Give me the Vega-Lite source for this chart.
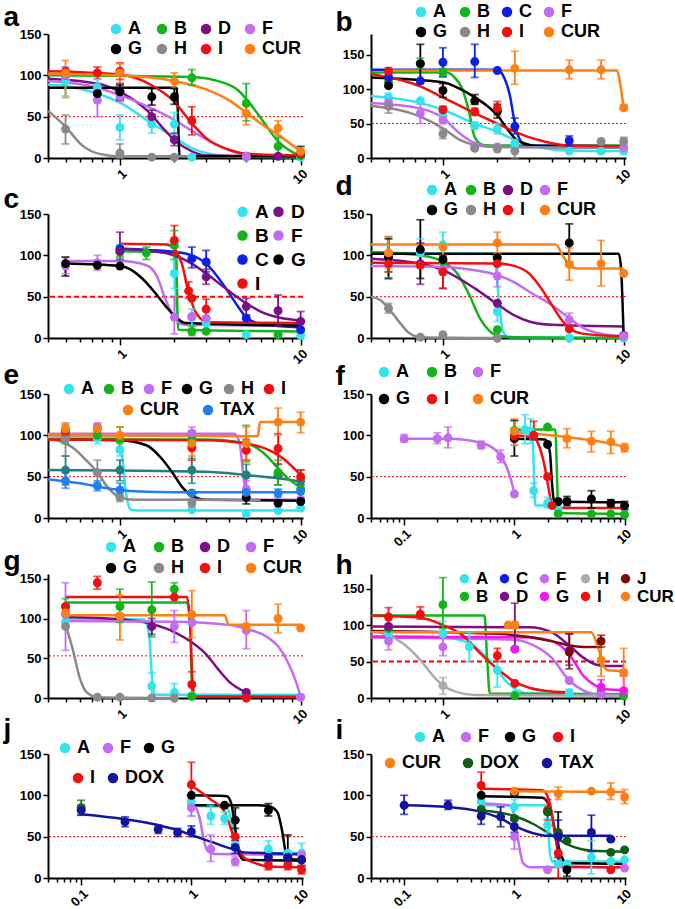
{
"$schema":"https://vega.github.io/schema/vega-lite/v6.json",
"background":"white",
"padding":{"left":3,"top":3,"right":0,"bottom":0},
"columns":2,
"bounds":"flush",
"spacing":{"row":56,"column":68},
"resolve":{"scale":{"x":"independent","y":"independent","color":"independent","fill":"independent"},"legend":{"color":"independent","fill":"independent"},"axis":{"x":"independent","y":"independent"}},
"config":{
 "view":{"stroke":null},
 "axis":{"domainColor":"black","domainWidth":2,"tickColor":"black","tickWidth":1.5,"labelColor":"black","labelFont":"Liberation Sans","labelFontWeight":"bold","labelFontSize":13,"grid":false},
 "axisY":{"titleAngle":0,"titleAlign":"left","titleBaseline":"alphabetic","titleFontSize":28,"titleFont":"Liberation Sans","titleFontWeight":"bold","titleColor":"black"},
 "legend":{"labelFont":"Liberation Sans","labelFontWeight":"bold","labelFontSize":18,"labelColor":"black","symbolType":"circle","symbolSize":110,"symbolStrokeWidth":0,"symbolOpacity":1,"labelOffset":3,"rowPadding":2,"direction":"horizontal"}
},
"datasets":{
"P":[
{"p":"a","s":"A","x":0.5,"y":93,"l":75,"h":110},{"p":"a","s":"A","x":0.75,"y":85,"l":75,"h":95},{"p":"a","s":"A","x":1,"y":37,"l":22,"h":52},{"p":"a","s":"A","x":1.5,"y":41,"l":30,"h":52},{"p":"a","s":"A","x":2,"y":41,"l":28,"h":55},{"p":"a","s":"A","x":2.5,"y":1},{"p":"a","s":"A","x":5,"y":1},{"p":"a","s":"A","x":10,"y":1},
{"p":"a","s":"B","x":0.5,"y":100},{"p":"a","s":"B","x":2.5,"y":97,"l":88,"h":107},{"p":"a","s":"B","x":5,"y":66,"l":45,"h":90},{"p":"a","s":"B","x":7.5,"y":14,"l":5,"h":25},{"p":"a","s":"B","x":10,"y":3},
{"p":"a","s":"D","x":0.5,"y":100},{"p":"a","s":"D","x":1,"y":80,"l":70,"h":90},{"p":"a","s":"D","x":1.5,"y":50,"l":42,"h":58},{"p":"a","s":"D","x":2,"y":22,"l":15,"h":30},{"p":"a","s":"D","x":5,"y":2},{"p":"a","s":"D","x":7.5,"y":2},
{"p":"a","s":"F","x":0.5,"y":100,"l":90,"h":110},{"p":"a","s":"F","x":0.75,"y":70,"l":50,"h":90},{"p":"a","s":"F","x":1,"y":75,"l":68,"h":82},{"p":"a","s":"F","x":5,"y":2},
{"p":"a","s":"G","x":0.75,"y":78,"l":70,"h":86},{"p":"a","s":"G","x":1,"y":80,"l":72,"h":88},{"p":"a","s":"G","x":1.5,"y":74,"l":64,"h":84},{"p":"a","s":"G","x":2,"y":74,"l":65,"h":84},{"p":"a","s":"G","x":10,"y":5,"l":0,"h":14},
{"p":"a","s":"H","x":0.5,"y":35,"l":17,"h":52},{"p":"a","s":"H","x":1,"y":6,"l":0,"h":17},{"p":"a","s":"H","x":1.5,"y":1},{"p":"a","s":"H","x":2,"y":1},
{"p":"a","s":"I","x":0.5,"y":105},{"p":"a","s":"I","x":0.75,"y":103,"l":96,"h":110},{"p":"a","s":"I","x":1,"y":105,"l":95,"h":115},{"p":"a","s":"I","x":2.5,"y":45,"l":28,"h":62},{"p":"a","s":"I","x":10,"y":5},
{"p":"a","s":"CUR","x":0.5,"y":103,"l":73,"h":118},{"p":"a","s":"CUR","x":1,"y":103,"l":90,"h":114},{"p":"a","s":"CUR","x":2,"y":93,"l":85,"h":103},{"p":"a","s":"CUR","x":5,"y":54,"l":40,"h":68},{"p":"a","s":"CUR","x":7.5,"y":36,"l":27,"h":45},{"p":"a","s":"CUR","x":10,"y":8},

{"p":"b","s":"A","x":0.5,"y":88,"l":82,"h":94},{"p":"b","s":"A","x":0.75,"y":83},{"p":"b","s":"A","x":1,"y":62,"l":55,"h":70},{"p":"b","s":"A","x":1.5,"y":47,"l":42,"h":52},{"p":"b","s":"A","x":2,"y":42,"l":35,"h":50},{"p":"b","s":"A","x":2.5,"y":21,"l":15,"h":27},{"p":"b","s":"A","x":5,"y":10},{"p":"b","s":"A","x":7.5,"y":10},{"p":"b","s":"A","x":10,"y":10},
{"p":"b","s":"B","x":0.5,"y":110},{"p":"b","s":"B","x":0.75,"y":137,"l":130,"h":145},{"p":"b","s":"B","x":1,"y":124,"l":118,"h":130},
{"p":"b","s":"C","x":0.5,"y":117},{"p":"b","s":"C","x":0.75,"y":112},{"p":"b","s":"C","x":1,"y":139,"l":118,"h":160},{"p":"b","s":"C","x":1.5,"y":140,"l":117,"h":165},{"p":"b","s":"C","x":2,"y":127},{"p":"b","s":"C","x":2.5,"y":46,"l":35,"h":58},{"p":"b","s":"C","x":5,"y":25,"l":18,"h":32},
{"p":"b","s":"F","x":0.5,"y":80,"l":72,"h":88},{"p":"b","s":"F","x":0.75,"y":65,"l":50,"h":78},{"p":"b","s":"F","x":1,"y":55,"l":50,"h":60},{"p":"b","s":"F","x":1.5,"y":17},{"p":"b","s":"F","x":2,"y":16},{"p":"b","s":"F","x":10,"y":15},
{"p":"b","s":"G","x":0.5,"y":105},{"p":"b","s":"G","x":0.75,"y":137,"l":108,"h":165},{"p":"b","s":"G","x":1,"y":98,"l":88,"h":108},{"p":"b","s":"G","x":1.5,"y":83,"l":78,"h":92},{"p":"b","s":"G","x":2,"y":68,"l":58,"h":78},
{"p":"b","s":"H","x":0.5,"y":75,"l":65,"h":85},{"p":"b","s":"H","x":1,"y":35,"l":28,"h":42},{"p":"b","s":"H","x":1.5,"y":14},{"p":"b","s":"H","x":2,"y":13},{"p":"b","s":"H","x":2.5,"y":10,"l":0,"h":20},{"p":"b","s":"H","x":7.5,"y":24},{"p":"b","s":"H","x":10,"y":24,"l":20,"h":30},
{"p":"b","s":"I","x":0.5,"y":126,"l":120,"h":131},{"p":"b","s":"I","x":1,"y":70,"l":65,"h":75},{"p":"b","s":"I","x":1.5,"y":67,"l":62,"h":72},{"p":"b","s":"I","x":2,"y":72,"l":62,"h":82},
{"p":"b","s":"CUR","x":2.5,"y":130,"l":107,"h":155},{"p":"b","s":"CUR","x":5,"y":128,"l":115,"h":142},{"p":"b","s":"CUR","x":7.5,"y":128,"l":115,"h":142},{"p":"b","s":"CUR","x":10,"y":73,"l":69,"h":77},

{"p":"c","s":"A","x":1,"y":105,"l":97,"h":113},{"p":"c","s":"A","x":2,"y":78,"l":60,"h":95},{"p":"c","s":"A","x":2.5,"y":25,"l":15,"h":35},{"p":"c","s":"A","x":3,"y":18},{"p":"c","s":"A","x":5,"y":4},{"p":"c","s":"A","x":10,"y":3},
{"p":"c","s":"B","x":1,"y":104,"l":98,"h":110},{"p":"c","s":"B","x":1.4,"y":103,"l":95,"h":110},{"p":"c","s":"B","x":2,"y":112,"l":95,"h":130},{"p":"c","s":"B","x":2.5,"y":8,"l":3,"h":14},{"p":"c","s":"B","x":3,"y":8},{"p":"c","s":"B","x":7.5,"y":4},
{"p":"c","s":"C","x":1,"y":108},{"p":"c","s":"C","x":2.5,"y":96,"l":85,"h":110},{"p":"c","s":"C","x":3,"y":92,"l":80,"h":106},{"p":"c","s":"C","x":5,"y":24},{"p":"c","s":"C","x":10,"y":10},
{"p":"c","s":"D","x":1,"y":105,"l":95,"h":128},{"p":"c","s":"D","x":3,"y":74,"l":65,"h":83},{"p":"c","s":"D","x":5,"y":38,"l":28,"h":48},{"p":"c","s":"D","x":7.5,"y":33,"l":15,"h":52},{"p":"c","s":"D","x":10,"y":20,"l":10,"h":32},
{"p":"c","s":"F","x":0.5,"y":87,"l":78,"h":97},{"p":"c","s":"F","x":0.75,"y":91,"l":82,"h":100},{"p":"c","s":"F","x":2,"y":25,"l":5,"h":50},{"p":"c","s":"F","x":2.5,"y":26},{"p":"c","s":"F","x":3,"y":24},
{"p":"c","s":"G","x":0.5,"y":90,"l":75,"h":98},{"p":"c","s":"G","x":0.75,"y":88},{"p":"c","s":"G","x":1,"y":87},
{"p":"c","s":"I","x":2,"y":118,"l":100,"h":136},{"p":"c","s":"I","x":2.4,"y":57,"l":48,"h":68},{"p":"c","s":"I","x":2.5,"y":48},{"p":"c","s":"I","x":3,"y":35,"l":25,"h":47},

{"p":"d","s":"A","x":0.5,"y":93,"l":73,"h":112},{"p":"d","s":"A","x":0.75,"y":103,"l":85,"h":120},{"p":"d","s":"A","x":1,"y":113,"l":97,"h":128},{"p":"d","s":"A","x":2,"y":32,"l":20,"h":45},{"p":"d","s":"A","x":5,"y":0},{"p":"d","s":"A","x":10,"y":0},
{"p":"d","s":"B","x":0.5,"y":100,"l":80,"h":122},{"p":"d","s":"B","x":1,"y":92},{"p":"d","s":"B","x":2,"y":10},
{"p":"d","s":"D","x":0.5,"y":97},{"p":"d","s":"D","x":0.75,"y":90,"l":65,"h":115},{"p":"d","s":"D","x":1,"y":80,"l":60,"h":100},{"p":"d","s":"D","x":2,"y":42},{"p":"d","s":"D","x":10,"y":3},
{"p":"d","s":"F","x":0.5,"y":95},{"p":"d","s":"F","x":1,"y":82},{"p":"d","s":"F","x":2,"y":75,"l":62,"h":88},{"p":"d","s":"F","x":5,"y":22,"l":15,"h":30},{"p":"d","s":"F","x":10,"y":2},
{"p":"d","s":"G","x":0.5,"y":97,"l":72,"h":120},{"p":"d","s":"G","x":0.75,"y":107,"l":72,"h":143},{"p":"d","s":"G","x":1,"y":95},{"p":"d","s":"G","x":2,"y":97},{"p":"d","s":"G","x":5,"y":115,"l":92,"h":138},
{"p":"d","s":"H","x":0.5,"y":36,"l":30,"h":42},{"p":"d","s":"H","x":0.75,"y":1},{"p":"d","s":"H","x":1,"y":4},{"p":"d","s":"H","x":2,"y":0},
{"p":"d","s":"I","x":0.5,"y":90,"l":80,"h":100},{"p":"d","s":"I","x":0.75,"y":88},{"p":"d","s":"I","x":1,"y":80,"l":60,"h":100},{"p":"d","s":"I","x":2,"y":90},{"p":"d","s":"I","x":5,"y":11},
{"p":"d","s":"CUR","x":0.5,"y":103,"l":85,"h":123},{"p":"d","s":"CUR","x":1,"y":110},{"p":"d","s":"CUR","x":2,"y":115,"l":102,"h":128},{"p":"d","s":"CUR","x":5,"y":89,"l":70,"h":109},{"p":"d","s":"CUR","x":7.5,"y":90,"l":63,"h":118},{"p":"d","s":"CUR","x":10,"y":78},

{"p":"e","s":"T2","x":0.5,"y":58,"l":40,"h":75},{"p":"e","s":"T2","x":1,"y":58,"l":45,"h":70},{"p":"e","s":"T2","x":2.5,"y":58,"l":42,"h":72},{"p":"e","s":"T2","x":5,"y":52,"l":35,"h":65},{"p":"e","s":"T2","x":7.5,"y":52,"l":40,"h":65},{"p":"e","s":"T2","x":10,"y":45,"l":35,"h":58},
{"p":"e","s":"A","x":0.5,"y":97},{"p":"e","s":"A","x":0.75,"y":97,"l":90,"h":104},{"p":"e","s":"A","x":1,"y":83,"l":75,"h":91},{"p":"e","s":"A","x":2.5,"y":10},{"p":"e","s":"A","x":5,"y":5},{"p":"e","s":"A","x":7.5,"y":9},{"p":"e","s":"A","x":10,"y":12},
{"p":"e","s":"B","x":0.5,"y":100,"l":90,"h":112},{"p":"e","s":"B","x":0.75,"y":100},{"p":"e","s":"B","x":1,"y":95,"l":80,"h":110},{"p":"e","s":"B","x":2.5,"y":95,"l":85,"h":105},{"p":"e","s":"B","x":5,"y":90,"l":68,"h":112},{"p":"e","s":"B","x":7.5,"y":55,"l":40,"h":70},{"p":"e","s":"B","x":10,"y":35},
{"p":"e","s":"F","x":0.5,"y":105},{"p":"e","s":"F","x":0.75,"y":110,"l":105,"h":115},{"p":"e","s":"F","x":2.5,"y":103,"l":95,"h":110},{"p":"e","s":"F","x":5,"y":35,"l":25,"h":45},{"p":"e","s":"F","x":10,"y":22},
{"p":"e","s":"G","x":2.5,"y":30},{"p":"e","s":"G","x":5,"y":25,"l":17,"h":32},{"p":"e","s":"G","x":7.5,"y":18},{"p":"e","s":"G","x":10,"y":20},
{"p":"e","s":"H","x":0.5,"y":95,"l":75,"h":115},{"p":"e","s":"H","x":0.75,"y":55,"l":40,"h":70},{"p":"e","s":"H","x":1,"y":25,"l":20,"h":30},{"p":"e","s":"H","x":2.5,"y":18,"l":13,"h":23},
{"p":"e","s":"I","x":0.5,"y":105},{"p":"e","s":"I","x":0.75,"y":108},{"p":"e","s":"I","x":2.5,"y":85,"l":70,"h":100},{"p":"e","s":"I","x":5,"y":82,"l":70,"h":95},{"p":"e","s":"I","x":7.5,"y":84,"l":65,"h":102},{"p":"e","s":"I","x":10,"y":50,"l":40,"h":58},
{"p":"e","s":"CUR","x":0.5,"y":108,"l":100,"h":113},{"p":"e","s":"CUR","x":0.75,"y":108,"l":103,"h":113},{"p":"e","s":"CUR","x":1,"y":100,"l":90,"h":110},{"p":"e","s":"CUR","x":2.5,"y":90,"l":75,"h":105},{"p":"e","s":"CUR","x":5,"y":90,"l":70,"h":110},{"p":"e","s":"CUR","x":7.5,"y":116,"l":100,"h":133},{"p":"e","s":"CUR","x":10,"y":116,"l":103,"h":128},
{"p":"e","s":"TAX","x":0.5,"y":45,"l":36,"h":55},{"p":"e","s":"TAX","x":0.75,"y":39,"l":33,"h":45},{"p":"e","s":"TAX","x":1,"y":34,"l":27,"h":42},{"p":"e","s":"TAX","x":2.5,"y":30},{"p":"e","s":"TAX","x":5,"y":31},{"p":"e","s":"TAX","x":7.5,"y":30,"l":25,"h":35},{"p":"e","s":"TAX","x":10,"y":32,"l":25,"h":40},

{"p":"f","s":"F","x":0.1,"y":96,"l":92,"h":101},{"p":"f","s":"F","x":0.2,"y":96,"l":90,"h":103},{"p":"f","s":"F","x":0.25,"y":97,"l":85,"h":110},{"p":"f","s":"F","x":0.5,"y":88,"l":84,"h":93},{"p":"f","s":"F","x":0.75,"y":74,"l":67,"h":82},{"p":"f","s":"F","x":1,"y":29},
{"p":"f","s":"A","x":1,"y":102,"l":88,"h":118},{"p":"f","s":"A","x":1.25,"y":107,"l":90,"h":125},{"p":"f","s":"A","x":1.4,"y":105,"l":90,"h":120},{"p":"f","s":"A","x":1.5,"y":33,"l":25,"h":42},{"p":"f","s":"A","x":2,"y":18,"l":12,"h":25},{"p":"f","s":"A","x":2.5,"y":11},
{"p":"f","s":"B","x":1,"y":106},{"p":"f","s":"B","x":2,"y":110},{"p":"f","s":"B","x":2.5,"y":5},{"p":"f","s":"B","x":5,"y":5},{"p":"f","s":"B","x":7.5,"y":5},{"p":"f","s":"B","x":10,"y":4},
{"p":"f","s":"G","x":1,"y":96,"l":75,"h":118},{"p":"f","s":"G","x":2,"y":89},{"p":"f","s":"G","x":2.5,"y":20},{"p":"f","s":"G","x":3,"y":20,"l":15,"h":26},{"p":"f","s":"G","x":5,"y":23,"l":12,"h":33},{"p":"f","s":"G","x":7.5,"y":18,"l":14,"h":22},{"p":"f","s":"G","x":10,"y":15,"l":10,"h":20},
{"p":"f","s":"I","x":1,"y":99},{"p":"f","s":"I","x":1.5,"y":100,"l":95,"h":117},{"p":"f","s":"I","x":2,"y":50},{"p":"f","s":"I","x":2.2,"y":15},
{"p":"f","s":"CUR","x":1,"y":105,"l":88,"h":120},{"p":"f","s":"CUR","x":3,"y":96,"l":85,"h":108},{"p":"f","s":"CUR","x":5,"y":93,"l":80,"h":105},{"p":"f","s":"CUR","x":7.5,"y":92,"l":78,"h":105},{"p":"f","s":"CUR","x":10,"y":85,"l":80,"h":90},

{"p":"g","s":"A","x":0.5,"y":96},{"p":"g","s":"A","x":1,"y":103},{"p":"g","s":"A","x":1.5,"y":15,"l":2,"h":32},{"p":"g","s":"A","x":2,"y":7,"l":0,"h":18},{"p":"g","s":"A","x":2.5,"y":3},{"p":"g","s":"A","x":10,"y":1},
{"p":"g","s":"B","x":0.5,"y":115,"l":105,"h":125},{"p":"g","s":"B","x":1,"y":115,"l":95,"h":137},{"p":"g","s":"B","x":1.5,"y":111,"l":77,"h":146},{"p":"g","s":"B","x":2,"y":137,"l":128,"h":145},{"p":"g","s":"B","x":2.5,"y":2},
{"p":"g","s":"D","x":1,"y":103},{"p":"g","s":"D","x":1.5,"y":90,"l":80,"h":100},{"p":"g","s":"D","x":5,"y":7},
{"p":"g","s":"F","x":0.5,"y":105,"l":60,"h":145},{"p":"g","s":"F","x":2,"y":90,"l":70,"h":110},{"p":"g","s":"F","x":2.5,"y":95},{"p":"g","s":"F","x":5,"y":85,"l":62,"h":110},{"p":"g","s":"F","x":10,"y":1},
{"p":"g","s":"H","x":0.5,"y":90},{"p":"g","s":"H","x":0.75,"y":1},{"p":"g","s":"H","x":1,"y":1},{"p":"g","s":"H","x":1.5,"y":0},{"p":"g","s":"H","x":2,"y":0},
{"p":"g","s":"I","x":0.5,"y":115},{"p":"g","s":"I","x":0.75,"y":145,"l":137,"h":153},{"p":"g","s":"I","x":2,"y":127},{"p":"g","s":"I","x":2.5,"y":17,"l":5,"h":33},{"p":"g","s":"I","x":5,"y":0},
{"p":"g","s":"CUR","x":0.5,"y":107},{"p":"g","s":"CUR","x":1,"y":103,"l":73,"h":130},{"p":"g","s":"CUR","x":2.5,"y":105,"l":76,"h":135},{"p":"g","s":"CUR","x":5,"y":90},{"p":"g","s":"CUR","x":7.5,"y":100,"l":82,"h":118},{"p":"g","s":"CUR","x":10,"y":88},

{"p":"h","s":"A","x":0.5,"y":88,"l":80,"h":96},{"p":"h","s":"A","x":1,"y":88,"l":70,"h":105},{"p":"h","s":"A","x":1.4,"y":70,"l":50,"h":90},{"p":"h","s":"A","x":2,"y":38,"l":15,"h":60},{"p":"h","s":"A","x":2.5,"y":5},{"p":"h","s":"A","x":5,"y":7,"l":3,"h":12},
{"p":"h","s":"B","x":0.5,"y":95},{"p":"h","s":"B","x":1,"y":128,"l":95,"h":165},{"p":"h","s":"B","x":2.5,"y":3},{"p":"h","s":"B","x":7.5,"y":8},{"p":"h","s":"B","x":10,"y":3},
{"p":"h","s":"D","x":0.5,"y":98},{"p":"h","s":"D","x":2.5,"y":100,"l":70,"h":130},{"p":"h","s":"D","x":5,"y":65,"l":45,"h":88},
{"p":"h","s":"F","x":0.5,"y":78,"l":66,"h":90},{"p":"h","s":"F","x":1,"y":70,"l":58,"h":85},{"p":"h","s":"F","x":2.5,"y":67},{"p":"h","s":"F","x":5,"y":24},{"p":"h","s":"F","x":7.5,"y":5},
{"p":"h","s":"G","x":2.5,"y":67},{"p":"h","s":"G","x":7.5,"y":15,"l":8,"h":25},{"p":"h","s":"G","x":10,"y":10,"l":5,"h":30},
{"p":"h","s":"H","x":1,"y":17,"l":5,"h":28},
{"p":"h","s":"I","x":0.5,"y":111,"l":100,"h":124},{"p":"h","s":"I","x":0.75,"y":115,"l":108,"h":125},{"p":"h","s":"I","x":2,"y":58,"l":50,"h":68},{"p":"h","s":"I","x":2.5,"y":20},
{"p":"h","s":"J","x":5,"y":63,"l":40,"h":88},{"p":"h","s":"J","x":7.5,"y":78,"l":70,"h":86},
{"p":"h","s":"CUR","x":2.3,"y":100},{"p":"h","s":"CUR","x":2.5,"y":100},{"p":"h","s":"CUR","x":7.5,"y":52,"l":30,"h":75},{"p":"h","s":"CUR","x":10,"y":35,"l":5,"h":68},

{"p":"j","s":"DG","x":0.1,"y":85,"l":76,"h":94},
{"p":"j","s":"A","x":1,"y":92,"l":75,"h":110},{"p":"j","s":"A","x":1.5,"y":75,"l":65,"h":88},{"p":"j","s":"A","x":2,"y":72,"l":65,"h":80},{"p":"j","s":"A","x":2.5,"y":40},{"p":"j","s":"A","x":5,"y":35,"l":25,"h":45},{"p":"j","s":"A","x":7.5,"y":30},{"p":"j","s":"A","x":10,"y":30,"l":20,"h":42},
{"p":"j","s":"F","x":1,"y":85,"l":75,"h":95},{"p":"j","s":"F","x":1.5,"y":35,"l":20,"h":52},{"p":"j","s":"F","x":2.5,"y":20,"l":15,"h":26},{"p":"j","s":"F","x":10,"y":28},
{"p":"j","s":"G","x":1,"y":100},{"p":"j","s":"G","x":2,"y":88},{"p":"j","s":"G","x":2.5,"y":70,"l":60,"h":85},{"p":"j","s":"G","x":5,"y":82,"l":75,"h":90},{"p":"j","s":"G","x":7.5,"y":25,"l":20,"h":52},{"p":"j","s":"G","x":10,"y":22},
{"p":"j","s":"I","x":1,"y":113,"l":88,"h":140},{"p":"j","s":"I","x":2.5,"y":50},{"p":"j","s":"I","x":5,"y":15,"l":10,"h":20},{"p":"j","s":"I","x":7.5,"y":15,"l":10,"h":20},{"p":"j","s":"I","x":10,"y":10,"l":5,"h":15},
{"p":"j","s":"DOX","x":0.1,"y":82,"l":76,"h":88},{"p":"j","s":"DOX","x":0.25,"y":68,"l":62,"h":74},{"p":"j","s":"DOX","x":0.5,"y":59,"l":54,"h":64},{"p":"j","s":"DOX","x":0.75,"y":55,"l":50,"h":60},{"p":"j","s":"DOX","x":1,"y":56,"l":50,"h":63},{"p":"j","s":"DOX","x":2.5,"y":37,"l":30,"h":45},{"p":"j","s":"DOX","x":5,"y":25,"l":18,"h":32},{"p":"j","s":"DOX","x":7.5,"y":25,"l":18,"h":32},{"p":"j","s":"DOX","x":10,"y":22,"l":15,"h":30},

{"p":"i","s":"A","x":0.5,"y":92,"l":85,"h":100},{"p":"i","s":"A","x":1,"y":86,"l":75,"h":95},{"p":"i","s":"A","x":2,"y":64,"l":55,"h":72},{"p":"i","s":"A","x":2.5,"y":17},{"p":"i","s":"A","x":3,"y":17},{"p":"i","s":"A","x":5,"y":25,"l":5,"h":45},{"p":"i","s":"A","x":7.5,"y":20},{"p":"i","s":"A","x":10,"y":22},
{"p":"i","s":"F","x":1,"y":50,"l":35,"h":65},{"p":"i","s":"F","x":2,"y":10},{"p":"i","s":"F","x":10,"y":12},
{"p":"i","s":"G","x":0.5,"y":100},{"p":"i","s":"G","x":1,"y":103,"l":98,"h":108},{"p":"i","s":"G","x":2,"y":80},{"p":"i","s":"G","x":2.5,"y":52,"l":25,"h":80},{"p":"i","s":"G","x":3,"y":10,"l":2,"h":18},
{"p":"i","s":"I","x":0.5,"y":112,"l":95,"h":128},{"p":"i","s":"I","x":2,"y":82,"l":70,"h":95},{"p":"i","s":"I","x":2.5,"y":30,"l":0,"h":55},{"p":"i","s":"I","x":7.5,"y":10},
{"p":"i","s":"CUR","x":1,"y":105},{"p":"i","s":"CUR","x":2.5,"y":102,"l":95,"h":110},{"p":"i","s":"CUR","x":5,"y":105},{"p":"i","s":"CUR","x":7.5,"y":104,"l":95,"h":115},{"p":"i","s":"CUR","x":10,"y":98,"l":90,"h":107},
{"p":"i","s":"DOX","x":0.5,"y":83},{"p":"i","s":"DOX","x":1,"y":72},{"p":"i","s":"DOX","x":2,"y":80},{"p":"i","s":"DOX","x":2.5,"y":55},{"p":"i","s":"DOX","x":3,"y":45},{"p":"i","s":"DOX","x":7.5,"y":31},{"p":"i","s":"DOX","x":10,"y":34},
{"p":"i","s":"TAX","x":0.1,"y":88,"l":77,"h":100},{"p":"i","s":"TAX","x":0.25,"y":88,"l":83,"h":94},{"p":"i","s":"TAX","x":0.5,"y":75,"l":65,"h":85},{"p":"i","s":"TAX","x":0.75,"y":74,"l":62,"h":86},{"p":"i","s":"TAX","x":1,"y":62,"l":55,"h":70},{"p":"i","s":"TAX","x":2.5,"y":50,"l":20,"h":70},{"p":"i","s":"TAX","x":5,"y":55,"l":32,"h":76},{"p":"i","s":"TAX","x":7.5,"y":47}
],
"C":[
{"p":"a","s":"A","x":0.4,"y":89},{"p":"a","s":"A","x":0.5,"y":87},{"p":"a","s":"A","x":0.75,"y":78},{"p":"a","s":"A","x":1,"y":67},{"p":"a","s":"A","x":1.5,"y":42},{"p":"a","s":"A","x":2,"y":25},{"p":"a","s":"A","x":2.5,"y":12},{"p":"a","s":"A","x":3,"y":6},{"p":"a","s":"A","x":4,"y":2},{"p":"a","s":"A","x":10,"y":1},
{"p":"a","s":"B","x":0.4,"y":100},{"p":"a","s":"B","x":2.5,"y":98},{"p":"a","s":"B","x":3.5,"y":93},{"p":"a","s":"B","x":4.5,"y":82},{"p":"a","s":"B","x":5.5,"y":60},{"p":"a","s":"B","x":6.5,"y":38},{"p":"a","s":"B","x":7.5,"y":20},{"p":"a","s":"B","x":9,"y":7},{"p":"a","s":"B","x":10,"y":3},
{"p":"a","s":"D","x":0.4,"y":96},{"p":"a","s":"D","x":0.75,"y":90},{"p":"a","s":"D","x":1,"y":80},{"p":"a","s":"D","x":1.25,"y":67},{"p":"a","s":"D","x":1.5,"y":52},{"p":"a","s":"D","x":1.75,"y":35},{"p":"a","s":"D","x":2,"y":22},{"p":"a","s":"D","x":2.5,"y":8},{"p":"a","s":"D","x":3,"y":3},{"p":"a","s":"D","x":10,"y":2},
{"p":"a","s":"F","x":0.4,"y":93},{"p":"a","s":"F","x":0.75,"y":85},{"p":"a","s":"F","x":1,"y":76},{"p":"a","s":"F","x":1.5,"y":60},{"p":"a","s":"F","x":2,"y":46},{"p":"a","s":"F","x":2.5,"y":33},{"p":"a","s":"F","x":3.5,"y":15},{"p":"a","s":"F","x":5,"y":5},{"p":"a","s":"F","x":10,"y":2},
{"p":"a","s":"G","x":0.4,"y":85},{"p":"a","s":"G","x":2.06,"y":85},{"p":"a","s":"G","x":2.14,"y":2},{"p":"a","s":"G","x":10,"y":2},
{"p":"a","s":"H","x":0.4,"y":57},{"p":"a","s":"H","x":0.5,"y":38},{"p":"a","s":"H","x":0.62,"y":15},{"p":"a","s":"H","x":0.77,"y":5},{"p":"a","s":"H","x":1,"y":2},{"p":"a","s":"H","x":2.5,"y":2},
{"p":"a","s":"I","x":0.4,"y":105},{"p":"a","s":"I","x":1,"y":101},{"p":"a","s":"I","x":1.5,"y":88},{"p":"a","s":"I","x":2,"y":68},{"p":"a","s":"I","x":2.5,"y":42},{"p":"a","s":"I","x":3,"y":24},{"p":"a","s":"I","x":4,"y":10},{"p":"a","s":"I","x":5,"y":5},{"p":"a","s":"I","x":10,"y":3},
{"p":"a","s":"CUR","x":0.4,"y":102},{"p":"a","s":"CUR","x":1,"y":100},{"p":"a","s":"CUR","x":2,"y":93},{"p":"a","s":"CUR","x":3,"y":83},{"p":"a","s":"CUR","x":4,"y":70},{"p":"a","s":"CUR","x":5,"y":55},{"p":"a","s":"CUR","x":6,"y":42},{"p":"a","s":"CUR","x":7.5,"y":28},{"p":"a","s":"CUR","x":10,"y":8},

{"p":"b","s":"A","x":0.4,"y":90},{"p":"b","s":"A","x":0.75,"y":80},{"p":"b","s":"A","x":1,"y":70},{"p":"b","s":"A","x":1.5,"y":50},{"p":"b","s":"A","x":2,"y":38},{"p":"b","s":"A","x":2.5,"y":26},{"p":"b","s":"A","x":3.5,"y":15},{"p":"b","s":"A","x":5,"y":11},{"p":"b","s":"A","x":10,"y":10},
{"p":"b","s":"B","x":0.4,"y":124},{"p":"b","s":"B","x":1.05,"y":124},{"p":"b","s":"B","x":1.15,"y":118},{"p":"b","s":"B","x":1.29,"y":98},{"p":"b","s":"B","x":1.4,"y":65},{"p":"b","s":"B","x":1.5,"y":30},{"p":"b","s":"B","x":1.67,"y":19},{"p":"b","s":"B","x":2,"y":18},{"p":"b","s":"B","x":10,"y":18},
{"p":"b","s":"C","x":0.4,"y":128},{"p":"b","s":"C","x":2,"y":128},{"p":"b","s":"C","x":2.15,"y":120},{"p":"b","s":"C","x":2.35,"y":90},{"p":"b","s":"C","x":2.5,"y":50},{"p":"b","s":"C","x":2.65,"y":28},{"p":"b","s":"C","x":2.9,"y":18},{"p":"b","s":"C","x":10,"y":17},
{"p":"b","s":"F","x":0.4,"y":80},{"p":"b","s":"F","x":0.75,"y":72},{"p":"b","s":"F","x":1,"y":58},{"p":"b","s":"F","x":1.25,"y":35},{"p":"b","s":"F","x":1.5,"y":22},{"p":"b","s":"F","x":2,"y":16},{"p":"b","s":"F","x":10,"y":15},
{"p":"b","s":"G","x":0.4,"y":117},{"p":"b","s":"G","x":1,"y":110},{"p":"b","s":"G","x":1.25,"y":100},{"p":"b","s":"G","x":1.5,"y":88},{"p":"b","s":"G","x":1.75,"y":76},{"p":"b","s":"G","x":2,"y":62},{"p":"b","s":"G","x":2.3,"y":40},{"p":"b","s":"G","x":2.6,"y":25},{"p":"b","s":"G","x":3.5,"y":17},{"p":"b","s":"G","x":10,"y":17},
{"p":"b","s":"H","x":0.4,"y":76},{"p":"b","s":"H","x":0.75,"y":60},{"p":"b","s":"H","x":1,"y":43},{"p":"b","s":"H","x":1.25,"y":26},{"p":"b","s":"H","x":1.5,"y":19},{"p":"b","s":"H","x":2,"y":16},{"p":"b","s":"H","x":10,"y":15},
{"p":"b","s":"I","x":0.4,"y":122},{"p":"b","s":"I","x":0.75,"y":104},{"p":"b","s":"I","x":1,"y":88},{"p":"b","s":"I","x":1.5,"y":65},{"p":"b","s":"I","x":2,"y":50},{"p":"b","s":"I","x":2.5,"y":38},{"p":"b","s":"I","x":3.5,"y":25},{"p":"b","s":"I","x":5,"y":18},{"p":"b","s":"I","x":10,"y":17},
{"p":"b","s":"CUR","x":0.5,"y":127},{"p":"b","s":"CUR","x":9.2,"y":127},{"p":"b","s":"CUR","x":9.6,"y":105},{"p":"b","s":"CUR","x":10,"y":73},

{"p":"c","s":"A","x":1,"y":107},{"p":"c","s":"A","x":1.98,"y":105},{"p":"c","s":"A","x":2.05,"y":40},{"p":"c","s":"A","x":2.12,"y":17},{"p":"c","s":"A","x":10,"y":15},
{"p":"c","s":"B","x":1,"y":105},{"p":"c","s":"B","x":2.04,"y":104},{"p":"c","s":"B","x":2.1,"y":10},{"p":"c","s":"B","x":10,"y":8},
{"p":"c","s":"C","x":1,"y":108},{"p":"c","s":"C","x":2,"y":104},{"p":"c","s":"C","x":2.5,"y":100},{"p":"c","s":"C","x":3,"y":90},{"p":"c","s":"C","x":3.5,"y":73},{"p":"c","s":"C","x":4,"y":55},{"p":"c","s":"C","x":4.5,"y":38},{"p":"c","s":"C","x":5,"y":25},{"p":"c","s":"C","x":6,"y":17},{"p":"c","s":"C","x":10,"y":13},
{"p":"c","s":"D","x":1,"y":108},{"p":"c","s":"D","x":1.5,"y":105},{"p":"c","s":"D","x":2,"y":100},{"p":"c","s":"D","x":2.5,"y":90},{"p":"c","s":"D","x":3,"y":78},{"p":"c","s":"D","x":4,"y":57},{"p":"c","s":"D","x":5,"y":42},{"p":"c","s":"D","x":6,"y":32},{"p":"c","s":"D","x":7.5,"y":25},{"p":"c","s":"D","x":10,"y":21},
{"p":"c","s":"F","x":0.5,"y":93},{"p":"c","s":"F","x":1,"y":93},{"p":"c","s":"F","x":1.4,"y":88},{"p":"c","s":"F","x":1.6,"y":75},{"p":"c","s":"F","x":1.8,"y":45},{"p":"c","s":"F","x":2,"y":25},{"p":"c","s":"F","x":2.3,"y":16},{"p":"c","s":"F","x":10,"y":15},
{"p":"c","s":"G","x":0.5,"y":90},{"p":"c","s":"G","x":1,"y":87},{"p":"c","s":"G","x":1.2,"y":80},{"p":"c","s":"G","x":1.4,"y":67},{"p":"c","s":"G","x":1.6,"y":52},{"p":"c","s":"G","x":1.8,"y":38},{"p":"c","s":"G","x":2,"y":27},{"p":"c","s":"G","x":2.3,"y":18},{"p":"c","s":"G","x":10,"y":15},
{"p":"c","s":"I","x":1,"y":114},{"p":"c","s":"I","x":1.8,"y":113},{"p":"c","s":"I","x":2,"y":108},{"p":"c","s":"I","x":2.2,"y":90},{"p":"c","s":"I","x":2.4,"y":55},{"p":"c","s":"I","x":2.6,"y":33},{"p":"c","s":"I","x":2.8,"y":23},{"p":"c","s":"I","x":3,"y":19},{"p":"c","s":"I","x":10,"y":18},

{"p":"d","s":"A","x":0.4,"y":103},{"p":"d","s":"A","x":1.85,"y":102},{"p":"d","s":"A","x":1.95,"y":90},{"p":"d","s":"A","x":2.05,"y":40},{"p":"d","s":"A","x":2.15,"y":8},{"p":"d","s":"A","x":2.3,"y":1},{"p":"d","s":"A","x":10,"y":0},
{"p":"d","s":"B","x":0.4,"y":104},{"p":"d","s":"B","x":0.75,"y":100},{"p":"d","s":"B","x":1,"y":92},{"p":"d","s":"B","x":1.2,"y":78},{"p":"d","s":"B","x":1.4,"y":52},{"p":"d","s":"B","x":1.6,"y":24},{"p":"d","s":"B","x":1.8,"y":9},{"p":"d","s":"B","x":2,"y":3},{"p":"d","s":"B","x":2.5,"y":1},{"p":"d","s":"B","x":10,"y":0},
{"p":"d","s":"D","x":0.4,"y":96},{"p":"d","s":"D","x":0.75,"y":90},{"p":"d","s":"D","x":1,"y":82},{"p":"d","s":"D","x":1.5,"y":60},{"p":"d","s":"D","x":2,"y":41},{"p":"d","s":"D","x":2.5,"y":27},{"p":"d","s":"D","x":3,"y":20},{"p":"d","s":"D","x":4,"y":16},{"p":"d","s":"D","x":10,"y":14},
{"p":"d","s":"F","x":0.4,"y":87},{"p":"d","s":"F","x":1,"y":86},{"p":"d","s":"F","x":1.5,"y":82},{"p":"d","s":"F","x":2,"y":76},{"p":"d","s":"F","x":2.5,"y":67},{"p":"d","s":"F","x":3,"y":56},{"p":"d","s":"F","x":4,"y":40},{"p":"d","s":"F","x":5,"y":24},{"p":"d","s":"F","x":6,"y":12},{"p":"d","s":"F","x":8,"y":4},{"p":"d","s":"F","x":10,"y":2},
{"p":"d","s":"G","x":0.4,"y":102},{"p":"d","s":"G","x":9.4,"y":102},{"p":"d","s":"G","x":9.7,"y":80},{"p":"d","s":"G","x":9.9,"y":30},{"p":"d","s":"G","x":10,"y":2},
{"p":"d","s":"H","x":0.4,"y":50},{"p":"d","s":"H","x":0.45,"y":46},{"p":"d","s":"H","x":0.5,"y":36},{"p":"d","s":"H","x":0.58,"y":18},{"p":"d","s":"H","x":0.65,"y":6},{"p":"d","s":"H","x":0.75,"y":1},{"p":"d","s":"H","x":2,"y":0},
{"p":"d","s":"I","x":0.4,"y":91},{"p":"d","s":"I","x":2,"y":90},{"p":"d","s":"I","x":2.5,"y":87},{"p":"d","s":"I","x":3,"y":78},{"p":"d","s":"I","x":3.5,"y":60},{"p":"d","s":"I","x":4,"y":40},{"p":"d","s":"I","x":4.5,"y":23},{"p":"d","s":"I","x":5,"y":12},{"p":"d","s":"I","x":6,"y":5},{"p":"d","s":"I","x":10,"y":2},
{"p":"d","s":"CUR","x":0.4,"y":113},{"p":"d","s":"CUR","x":4.2,"y":113},{"p":"d","s":"CUR","x":4.6,"y":100},{"p":"d","s":"CUR","x":5,"y":88},{"p":"d","s":"CUR","x":5.5,"y":84},{"p":"d","s":"CUR","x":10,"y":84},

{"p":"e","s":"T2","x":0.4,"y":58},{"p":"e","s":"T2","x":3,"y":56},{"p":"e","s":"T2","x":5,"y":52},{"p":"e","s":"T2","x":7.5,"y":48},{"p":"e","s":"T2","x":10,"y":44},
{"p":"e","s":"A","x":0.4,"y":98},{"p":"e","s":"A","x":0.95,"y":97},{"p":"e","s":"A","x":1.02,"y":80},{"p":"e","s":"A","x":1.08,"y":30},{"p":"e","s":"A","x":1.15,"y":10},{"p":"e","s":"A","x":1.3,"y":9},{"p":"e","s":"A","x":10,"y":9},
{"p":"e","s":"B","x":0.4,"y":95},{"p":"e","s":"B","x":3,"y":95},{"p":"e","s":"B","x":4.5,"y":92},{"p":"e","s":"B","x":5.5,"y":87},{"p":"e","s":"B","x":6.5,"y":75},{"p":"e","s":"B","x":7.5,"y":60},{"p":"e","s":"B","x":8.5,"y":48},{"p":"e","s":"B","x":10,"y":37},
{"p":"e","s":"F","x":0.4,"y":102},{"p":"e","s":"F","x":4.3,"y":102},{"p":"e","s":"F","x":4.6,"y":90},{"p":"e","s":"F","x":4.8,"y":55},{"p":"e","s":"F","x":5,"y":28},{"p":"e","s":"F","x":5.3,"y":22},{"p":"e","s":"F","x":10,"y":22},
{"p":"e","s":"G","x":0.5,"y":95},{"p":"e","s":"G","x":1,"y":94},{"p":"e","s":"G","x":1.4,"y":88},{"p":"e","s":"G","x":1.7,"y":72},{"p":"e","s":"G","x":1.95,"y":55},{"p":"e","s":"G","x":2.2,"y":38},{"p":"e","s":"G","x":2.5,"y":27},{"p":"e","s":"G","x":3,"y":22},{"p":"e","s":"G","x":10,"y":21},
{"p":"e","s":"H","x":0.4,"y":96},{"p":"e","s":"H","x":0.55,"y":85},{"p":"e","s":"H","x":0.65,"y":70},{"p":"e","s":"H","x":0.75,"y":55},{"p":"e","s":"H","x":0.85,"y":38},{"p":"e","s":"H","x":1,"y":25},{"p":"e","s":"H","x":1.2,"y":22},{"p":"e","s":"H","x":6,"y":22},
{"p":"e","s":"I","x":0.4,"y":95},{"p":"e","s":"I","x":3,"y":94},{"p":"e","s":"I","x":5,"y":90},{"p":"e","s":"I","x":6,"y":86},{"p":"e","s":"I","x":7,"y":80},{"p":"e","s":"I","x":8,"y":72},{"p":"e","s":"I","x":9,"y":62},{"p":"e","s":"I","x":10,"y":52},
{"p":"e","s":"CUR","x":0.4,"y":100},{"p":"e","s":"CUR","x":5.8,"y":99},{"p":"e","s":"CUR","x":5.95,"y":116},{"p":"e","s":"CUR","x":10,"y":116},
{"p":"e","s":"TAX","x":0.4,"y":47},{"p":"e","s":"TAX","x":0.6,"y":42},{"p":"e","s":"TAX","x":0.8,"y":37},{"p":"e","s":"TAX","x":1,"y":34},{"p":"e","s":"TAX","x":1.3,"y":32},{"p":"e","s":"TAX","x":2,"y":31},{"p":"e","s":"TAX","x":10,"y":31},

{"p":"f","s":"F","x":0.1,"y":96},{"p":"f","s":"F","x":0.25,"y":96},{"p":"f","s":"F","x":0.5,"y":91},{"p":"f","s":"F","x":0.7,"y":80},{"p":"f","s":"F","x":0.85,"y":62},{"p":"f","s":"F","x":0.95,"y":42},{"p":"f","s":"F","x":1,"y":30},
{"p":"f","s":"A","x":1,"y":106},{"p":"f","s":"A","x":1.45,"y":105},{"p":"f","s":"A","x":1.5,"y":60},{"p":"f","s":"A","x":1.55,"y":15},{"p":"f","s":"A","x":2.5,"y":15},
{"p":"f","s":"B","x":1,"y":107},{"p":"f","s":"B","x":2.35,"y":107},{"p":"f","s":"B","x":2.45,"y":40},{"p":"f","s":"B","x":2.5,"y":6},{"p":"f","s":"B","x":10,"y":5},
{"p":"f","s":"G","x":1,"y":96},{"p":"f","s":"G","x":1.9,"y":95},{"p":"f","s":"G","x":2.1,"y":80},{"p":"f","s":"G","x":2.2,"y":40},{"p":"f","s":"G","x":2.3,"y":20},{"p":"f","s":"G","x":10,"y":19},
{"p":"f","s":"I","x":1,"y":100},{"p":"f","s":"I","x":1.5,"y":97},{"p":"f","s":"I","x":1.7,"y":85},{"p":"f","s":"I","x":1.9,"y":60},{"p":"f","s":"I","x":2.05,"y":35},{"p":"f","s":"I","x":2.2,"y":15},{"p":"f","s":"I","x":2.4,"y":12},{"p":"f","s":"I","x":10,"y":12},
{"p":"f","s":"CUR","x":1,"y":104},{"p":"f","s":"CUR","x":3,"y":98},{"p":"f","s":"CUR","x":5,"y":94},{"p":"f","s":"CUR","x":7.5,"y":90},{"p":"f","s":"CUR","x":10,"y":86},

{"p":"g","s":"A","x":0.5,"y":100},{"p":"g","s":"A","x":1.35,"y":99},{"p":"g","s":"A","x":1.45,"y":80},{"p":"g","s":"A","x":1.5,"y":30},{"p":"g","s":"A","x":1.55,"y":6},{"p":"g","s":"A","x":1.62,"y":4},{"p":"g","s":"A","x":10,"y":4},
{"p":"g","s":"B","x":0.5,"y":120},{"p":"g","s":"B","x":2.35,"y":120},{"p":"g","s":"B","x":2.45,"y":90},{"p":"g","s":"B","x":2.5,"y":20},{"p":"g","s":"B","x":2.55,"y":2},{"p":"g","s":"B","x":10,"y":2},
{"p":"g","s":"D","x":0.5,"y":102},{"p":"g","s":"D","x":1,"y":99},{"p":"g","s":"D","x":1.5,"y":93},{"p":"g","s":"D","x":2,"y":83},{"p":"g","s":"D","x":2.5,"y":70},{"p":"g","s":"D","x":3,"y":55},{"p":"g","s":"D","x":3.5,"y":36},{"p":"g","s":"D","x":4,"y":21},{"p":"g","s":"D","x":5,"y":7},
{"p":"g","s":"F","x":0.5,"y":97},{"p":"g","s":"F","x":2,"y":96},{"p":"g","s":"F","x":4,"y":92},{"p":"g","s":"F","x":5,"y":87},{"p":"g","s":"F","x":6.5,"y":77},{"p":"g","s":"F","x":7.5,"y":65},{"p":"g","s":"F","x":8.5,"y":45},{"p":"g","s":"F","x":9.5,"y":18},{"p":"g","s":"F","x":10,"y":1},
{"p":"g","s":"H","x":0.5,"y":93},{"p":"g","s":"H","x":0.55,"y":60},{"p":"g","s":"H","x":0.6,"y":25},{"p":"g","s":"H","x":0.65,"y":8},{"p":"g","s":"H","x":0.75,"y":1},{"p":"g","s":"H","x":2,"y":0},
{"p":"g","s":"I","x":0.5,"y":127},{"p":"g","s":"I","x":2.35,"y":127},{"p":"g","s":"I","x":2.45,"y":90},{"p":"g","s":"I","x":2.52,"y":20},{"p":"g","s":"I","x":2.6,"y":2},{"p":"g","s":"I","x":10,"y":1},
{"p":"g","s":"CUR","x":0.5,"y":104},{"p":"g","s":"CUR","x":3.8,"y":104},{"p":"g","s":"CUR","x":4,"y":92},{"p":"g","s":"CUR","x":10,"y":92},

{"p":"h","s":"A","x":0.4,"y":85},{"p":"h","s":"A","x":1,"y":83},{"p":"h","s":"A","x":1.3,"y":78},{"p":"h","s":"A","x":1.6,"y":65},{"p":"h","s":"A","x":1.8,"y":52},{"p":"h","s":"A","x":2,"y":38},{"p":"h","s":"A","x":2.3,"y":20},{"p":"h","s":"A","x":2.6,"y":10},{"p":"h","s":"A","x":3,"y":6},{"p":"h","s":"A","x":10,"y":5},
{"p":"h","s":"B","x":0.4,"y":113},{"p":"h","s":"B","x":1.7,"y":113},{"p":"h","s":"B","x":1.75,"y":60},{"p":"h","s":"B","x":1.82,"y":6},{"p":"h","s":"B","x":10,"y":5},
{"p":"h","s":"D","x":0.4,"y":98},{"p":"h","s":"D","x":3,"y":97},{"p":"h","s":"D","x":4,"y":90},{"p":"h","s":"D","x":5,"y":72},{"p":"h","s":"D","x":6,"y":55},{"p":"h","s":"D","x":7,"y":46},{"p":"h","s":"D","x":8,"y":44},{"p":"h","s":"D","x":10,"y":44},
{"p":"h","s":"F","x":0.4,"y":83},{"p":"h","s":"F","x":2.5,"y":80},{"p":"h","s":"F","x":3,"y":75},{"p":"h","s":"F","x":4,"y":55},{"p":"h","s":"F","x":5,"y":24},{"p":"h","s":"F","x":6,"y":10},{"p":"h","s":"F","x":7.5,"y":4},{"p":"h","s":"F","x":10,"y":3},
{"p":"h","s":"G","x":0.4,"y":84},{"p":"h","s":"G","x":3,"y":83},{"p":"h","s":"G","x":4,"y":78},{"p":"h","s":"G","x":5,"y":60},{"p":"h","s":"G","x":6,"y":30},{"p":"h","s":"G","x":7,"y":17},{"p":"h","s":"G","x":8,"y":12},{"p":"h","s":"G","x":10,"y":11},
{"p":"h","s":"H","x":0.4,"y":93},{"p":"h","s":"H","x":0.6,"y":75},{"p":"h","s":"H","x":0.75,"y":52},{"p":"h","s":"H","x":0.9,"y":28},{"p":"h","s":"H","x":1,"y":17},{"p":"h","s":"H","x":1.2,"y":8},{"p":"h","s":"H","x":1.5,"y":4},{"p":"h","s":"H","x":10,"y":3},
{"p":"h","s":"I","x":0.4,"y":113},{"p":"h","s":"I","x":0.75,"y":110},{"p":"h","s":"I","x":1,"y":100},{"p":"h","s":"I","x":1.3,"y":85},{"p":"h","s":"I","x":1.6,"y":62},{"p":"h","s":"I","x":2,"y":40},{"p":"h","s":"I","x":2.5,"y":22},{"p":"h","s":"I","x":3,"y":14},{"p":"h","s":"I","x":4,"y":9},{"p":"h","s":"I","x":5,"y":8},
{"p":"h","s":"J","x":0.4,"y":92},{"p":"h","s":"J","x":2,"y":88},{"p":"h","s":"J","x":4,"y":78},{"p":"h","s":"J","x":5,"y":72},{"p":"h","s":"J","x":6,"y":70},{"p":"h","s":"J","x":7.5,"y":70},
{"p":"h","s":"CUR","x":0.4,"y":90},{"p":"h","s":"CUR","x":6.6,"y":90},{"p":"h","s":"CUR","x":7.2,"y":70},{"p":"h","s":"CUR","x":7.7,"y":45},{"p":"h","s":"CUR","x":8.2,"y":38},{"p":"h","s":"CUR","x":10,"y":37},

{"p":"j","s":"A","x":1,"y":87},{"p":"j","s":"A","x":2.1,"y":86},{"p":"j","s":"A","x":2.3,"y":70},{"p":"j","s":"A","x":2.5,"y":45},{"p":"j","s":"A","x":2.7,"y":32},{"p":"j","s":"A","x":3,"y":30},{"p":"j","s":"A","x":10,"y":30},
{"p":"j","s":"F","x":1,"y":88},{"p":"j","s":"F","x":1.1,"y":85},{"p":"j","s":"F","x":1.2,"y":70},{"p":"j","s":"F","x":1.3,"y":45},{"p":"j","s":"F","x":1.4,"y":33},{"p":"j","s":"F","x":1.6,"y":29},{"p":"j","s":"F","x":10,"y":28},
{"p":"j","s":"G","x":1,"y":100},{"p":"j","s":"G","x":2.1,"y":99},{"p":"j","s":"G","x":2.3,"y":90},{"p":"j","s":"G","x":2.5,"y":60},{"p":"j","s":"G","x":2.7,"y":30},{"p":"j","s":"G","x":3,"y":22},{"p":"j","s":"G","x":10,"y":21},
{"p":"j","s":"G2","x":1,"y":88},{"p":"j","s":"G2","x":4,"y":88},{"p":"j","s":"G2","x":5,"y":87},{"p":"j","s":"G2","x":6,"y":80},{"p":"j","s":"G2","x":6.7,"y":55},{"p":"j","s":"G2","x":7.2,"y":30},{"p":"j","s":"G2","x":7.7,"y":23},{"p":"j","s":"G2","x":10,"y":22},
{"p":"j","s":"I","x":1,"y":112},{"p":"j","s":"I","x":1.5,"y":95},{"p":"j","s":"I","x":2,"y":80},{"p":"j","s":"I","x":2.5,"y":45},{"p":"j","s":"I","x":3,"y":25},{"p":"j","s":"I","x":4,"y":17},{"p":"j","s":"I","x":5,"y":14},{"p":"j","s":"I","x":10,"y":13},
{"p":"j","s":"DOX","x":0.1,"y":77},{"p":"j","s":"DOX","x":0.25,"y":71},{"p":"j","s":"DOX","x":0.5,"y":64},{"p":"j","s":"DOX","x":0.75,"y":58},{"p":"j","s":"DOX","x":1,"y":52},{"p":"j","s":"DOX","x":1.5,"y":44},{"p":"j","s":"DOX","x":2,"y":38},{"p":"j","s":"DOX","x":2.5,"y":34},{"p":"j","s":"DOX","x":3,"y":31},{"p":"j","s":"DOX","x":10,"y":29},

{"p":"i","s":"A","x":0.5,"y":88},{"p":"i","s":"A","x":1.9,"y":88},{"p":"i","s":"A","x":2,"y":75},{"p":"i","s":"A","x":2.1,"y":30},{"p":"i","s":"A","x":2.2,"y":20},{"p":"i","s":"A","x":10,"y":20},
{"p":"i","s":"F","x":0.5,"y":90},{"p":"i","s":"F","x":0.9,"y":88},{"p":"i","s":"F","x":1,"y":75},{"p":"i","s":"F","x":1.1,"y":40},{"p":"i","s":"F","x":1.2,"y":18},{"p":"i","s":"F","x":1.4,"y":13},{"p":"i","s":"F","x":10,"y":13},
{"p":"i","s":"G","x":0.5,"y":99},{"p":"i","s":"G","x":1.8,"y":97},{"p":"i","s":"G","x":2.1,"y":85},{"p":"i","s":"G","x":2.4,"y":50},{"p":"i","s":"G","x":2.7,"y":25},{"p":"i","s":"G","x":3,"y":18},{"p":"i","s":"G","x":10,"y":17},
{"p":"i","s":"I","x":0.5,"y":108},{"p":"i","s":"I","x":1.8,"y":106},{"p":"i","s":"I","x":2.1,"y":90},{"p":"i","s":"I","x":2.35,"y":50},{"p":"i","s":"I","x":2.6,"y":20},{"p":"i","s":"I","x":2.9,"y":14},{"p":"i","s":"I","x":10,"y":13},
{"p":"i","s":"CUR","x":1,"y":105},{"p":"i","s":"CUR","x":10,"y":104},
{"p":"i","s":"DOX","x":0.5,"y":82},{"p":"i","s":"DOX","x":1,"y":75},{"p":"i","s":"DOX","x":1.5,"y":65},{"p":"i","s":"DOX","x":2,"y":55},{"p":"i","s":"DOX","x":2.5,"y":47},{"p":"i","s":"DOX","x":3,"y":41},{"p":"i","s":"DOX","x":4,"y":35},{"p":"i","s":"DOX","x":5,"y":33},{"p":"i","s":"DOX","x":10,"y":32},
{"p":"i","s":"TAX","x":0.1,"y":88},{"p":"i","s":"TAX","x":0.25,"y":86},{"p":"i","s":"TAX","x":0.5,"y":80},{"p":"i","s":"TAX","x":0.75,"y":72},{"p":"i","s":"TAX","x":1,"y":63},{"p":"i","s":"TAX","x":1.5,"y":54},{"p":"i","s":"TAX","x":2,"y":51},{"p":"i","s":"TAX","x":7.5,"y":51}
]
},
"concat":[
{"width":255,"height":124,"layer":[
{"data":{"values":[{}]},"mark":{"type":"rule","color":"#F00","strokeWidth":1,"strokeDash":[2,2]},"encoding":{"y":{"datum":50,"type":"quantitative","scale":{"domain":[0,150],"nice":false},"axis":{"values":[0,50,100,150],"tickSize":5,"title":"a","titleX":-45,"titleY":-9}}}},
{"data":{"name":"C"},"transform":[{"filter":"datum.p=='a'"}],"mark":{"type":"line","interpolate":"monotone","strokeWidth":2.5},"encoding":{"x":{"field":"x","type":"quantitative","scale":{"type":"log","domain":[0.4,10.3],"nice":false},"axis":{"values":[0.4,0.5,0.6,0.7,0.8,0.9,1,2,3,4,5,6,7,8,9,10],"labelExpr":"datum.value==1?'1':datum.value==10?'10':''","labelAngle":-45,"labelOverlap":false,"title":null,"tickSize":{"condition":{"test":"datum.value==1||datum.value==10","value":7},"value":4}}},"y":{"field":"y","type":"quantitative"},"color":{"field":"s","type":"nominal","scale":{"domain":["A","B","D","F","G","H","I","CUR"],"range":["#33E4EE","#12B418","#7B0F86","#C46BF2","#000000","#8A8A8A","#F20F0F","#FF7F12"]}}}},
{"data":{"name":"P"},"transform":[{"filter":"datum.p=='a'&&isValid(datum.l)"}],"mark":{"type":"rule","strokeWidth":1.8},"encoding":{"x":{"field":"x","type":"quantitative","title":null},"y":{"field":"l","type":"quantitative"},"y2":{"field":"h"},"color":{"field":"s","type":"nominal"}}},
{"data":{"name":"P"},"transform":[{"filter":"datum.p=='a'&&isValid(datum.l)"}],"mark":{"type":"tick","orient":"horizontal","size":8,"thickness":1.8},"encoding":{"x":{"field":"x","type":"quantitative","title":null},"y":{"field":"l","type":"quantitative"},"color":{"field":"s","type":"nominal"}}},
{"data":{"name":"P"},"transform":[{"filter":"datum.p=='a'&&isValid(datum.l)"}],"mark":{"type":"tick","orient":"horizontal","size":8,"thickness":1.8},"encoding":{"x":{"field":"x","type":"quantitative","title":null},"y":{"field":"h","type":"quantitative"},"color":{"field":"s","type":"nominal"}}},
{"data":{"name":"P"},"transform":[{"filter":"datum.p=='a'"}],"mark":{"type":"circle","size":80,"opacity":1},"encoding":{"x":{"field":"x","type":"quantitative","title":null},"y":{"field":"y","type":"quantitative"},"color":{"field":"s","type":"nominal","legend":{"title":null,"orient":"none","direction":"horizontal","legendX":59,"legendY":-14,"columns":4,"columnPadding":10}}}}
]},
{"width":255,"height":124,"layer":[
{"data":{"values":[{}]},"mark":{"type":"rule","color":"#F00","strokeWidth":1,"strokeDash":[2,2]},"encoding":{"y":{"datum":50,"type":"quantitative","scale":{"domain":[0,180],"nice":false},"axis":{"values":[0,50,100,150],"tickSize":5,"title":"b","titleX":-36,"titleY":-4}}}},
{"data":{"name":"C"},"transform":[{"filter":"datum.p=='b'"}],"mark":{"type":"line","interpolate":"monotone","strokeWidth":2.5},"encoding":{"x":{"field":"x","type":"quantitative","scale":{"type":"log","domain":[0.4,10.3],"nice":false},"axis":{"values":[0.4,0.5,0.6,0.7,0.8,0.9,1,2,3,4,5,6,7,8,9,10],"labelExpr":"datum.value==1?'1':datum.value==10?'10':''","labelAngle":-45,"labelOverlap":false,"title":null,"tickSize":{"condition":{"test":"datum.value==1||datum.value==10","value":7},"value":4}}},"y":{"field":"y","type":"quantitative"},"color":{"field":"s","type":"nominal","scale":{"domain":["A","B","C","F","G","H","I","CUR"],"range":["#33E4EE","#12B418","#0B1FE6","#C46BF2","#000000","#8A8A8A","#F20F0F","#FF7F12"]}}}},
{"data":{"name":"P"},"transform":[{"filter":"datum.p=='b'&&isValid(datum.l)"}],"mark":{"type":"rule","strokeWidth":1.8},"encoding":{"x":{"field":"x","type":"quantitative","title":null},"y":{"field":"l","type":"quantitative"},"y2":{"field":"h"},"color":{"field":"s","type":"nominal"}}},
{"data":{"name":"P"},"transform":[{"filter":"datum.p=='b'&&isValid(datum.l)"}],"mark":{"type":"tick","orient":"horizontal","size":8,"thickness":1.8},"encoding":{"x":{"field":"x","type":"quantitative","title":null},"y":{"field":"l","type":"quantitative"},"color":{"field":"s","type":"nominal"}}},
{"data":{"name":"P"},"transform":[{"filter":"datum.p=='b'&&isValid(datum.l)"}],"mark":{"type":"tick","orient":"horizontal","size":8,"thickness":1.8},"encoding":{"x":{"field":"x","type":"quantitative","title":null},"y":{"field":"h","type":"quantitative"},"color":{"field":"s","type":"nominal"}}},
{"data":{"name":"P"},"transform":[{"filter":"datum.p=='b'"}],"mark":{"type":"circle","size":80,"opacity":1},"encoding":{"x":{"field":"x","type":"quantitative","title":null},"y":{"field":"y","type":"quantitative"},"color":{"field":"s","type":"nominal","legend":{"title":null,"orient":"none","direction":"horizontal","legendX":41,"legendY":-31,"columns":4,"columnPadding":8}}}}
]},
{"width":255,"height":124,"layer":[
{"data":{"values":[{}]},"mark":{"type":"rule","color":"#F00","strokeWidth":2,"strokeDash":[5,3]},"encoding":{"y":{"datum":50,"type":"quantitative","scale":{"domain":[0,150],"nice":false},"axis":{"values":[0,50,100,150],"tickSize":5,"title":"c","titleX":-45,"titleY":-7}}}},
{"data":{"name":"C"},"transform":[{"filter":"datum.p=='c'"}],"mark":{"type":"line","interpolate":"monotone","strokeWidth":2.5},"encoding":{"x":{"field":"x","type":"quantitative","scale":{"type":"log","domain":[0.4,10.3],"nice":false},"axis":{"values":[0.4,0.5,0.6,0.7,0.8,0.9,1,2,3,4,5,6,7,8,9,10],"labelExpr":"datum.value==1?'1':datum.value==10?'10':''","labelAngle":-45,"labelOverlap":false,"title":null,"tickSize":{"condition":{"test":"datum.value==1||datum.value==10","value":7},"value":4}}},"y":{"field":"y","type":"quantitative"},"color":{"field":"s","type":"nominal","scale":{"domain":["A","D","B","F","C","G","I"],"range":["#33E4EE","#7B0F86","#12B418","#C46BF2","#0B1FE6","#000000","#F20F0F"]}}}},
{"data":{"name":"P"},"transform":[{"filter":"datum.p=='c'&&isValid(datum.l)"}],"mark":{"type":"rule","strokeWidth":1.8},"encoding":{"x":{"field":"x","type":"quantitative","title":null},"y":{"field":"l","type":"quantitative"},"y2":{"field":"h"},"color":{"field":"s","type":"nominal"}}},
{"data":{"name":"P"},"transform":[{"filter":"datum.p=='c'&&isValid(datum.l)"}],"mark":{"type":"tick","orient":"horizontal","size":8,"thickness":1.8},"encoding":{"x":{"field":"x","type":"quantitative","title":null},"y":{"field":"l","type":"quantitative"},"color":{"field":"s","type":"nominal"}}},
{"data":{"name":"P"},"transform":[{"filter":"datum.p=='c'&&isValid(datum.l)"}],"mark":{"type":"tick","orient":"horizontal","size":8,"thickness":1.8},"encoding":{"x":{"field":"x","type":"quantitative","title":null},"y":{"field":"h","type":"quantitative"},"color":{"field":"s","type":"nominal"}}},
{"data":{"name":"P"},"transform":[{"filter":"datum.p=='c'"}],"mark":{"type":"circle","size":80,"opacity":1},"encoding":{"x":{"field":"x","type":"quantitative","title":null},"y":{"field":"y","type":"quantitative"},"color":{"field":"s","type":"nominal","legend":{"title":null,"orient":"none","direction":"horizontal","legendX":185,"legendY":-12,"columns":2,"columnPadding":0,"rowPadding":4,"labelFontSize":19}}}}
]},
{"width":255,"height":124,"layer":[
{"data":{"values":[{}]},"mark":{"type":"rule","color":"#F00","strokeWidth":1,"strokeDash":[2,2]},"encoding":{"y":{"datum":50,"type":"quantitative","scale":{"domain":[0,150],"nice":false},"axis":{"values":[0,50,100,150],"tickSize":5,"title":"d","titleX":-36,"titleY":-20}}}},
{"data":{"name":"C"},"transform":[{"filter":"datum.p=='d'"}],"mark":{"type":"line","interpolate":"monotone","strokeWidth":2.5},"encoding":{"x":{"field":"x","type":"quantitative","scale":{"type":"log","domain":[0.4,10.3],"nice":false},"axis":{"values":[0.4,0.5,0.6,0.7,0.8,0.9,1,2,3,4,5,6,7,8,9,10],"labelExpr":"datum.value==1?'1':datum.value==10?'10':''","labelAngle":-45,"labelOverlap":false,"title":null,"tickSize":{"condition":{"test":"datum.value==1||datum.value==10","value":7},"value":4}}},"y":{"field":"y","type":"quantitative"},"color":{"field":"s","type":"nominal","scale":{"domain":["A","B","D","F","G","H","I","CUR"],"range":["#33E4EE","#12B418","#7B0F86","#C46BF2","#000000","#8A8A8A","#F20F0F","#FF7F12"]}}}},
{"data":{"name":"P"},"transform":[{"filter":"datum.p=='d'&&isValid(datum.l)"}],"mark":{"type":"rule","strokeWidth":1.8},"encoding":{"x":{"field":"x","type":"quantitative","title":null},"y":{"field":"l","type":"quantitative"},"y2":{"field":"h"},"color":{"field":"s","type":"nominal"}}},
{"data":{"name":"P"},"transform":[{"filter":"datum.p=='d'&&isValid(datum.l)"}],"mark":{"type":"tick","orient":"horizontal","size":8,"thickness":1.8},"encoding":{"x":{"field":"x","type":"quantitative","title":null},"y":{"field":"l","type":"quantitative"},"color":{"field":"s","type":"nominal"}}},
{"data":{"name":"P"},"transform":[{"filter":"datum.p=='d'&&isValid(datum.l)"}],"mark":{"type":"tick","orient":"horizontal","size":8,"thickness":1.8},"encoding":{"x":{"field":"x","type":"quantitative","title":null},"y":{"field":"h","type":"quantitative"},"color":{"field":"s","type":"nominal"}}},
{"data":{"name":"P"},"transform":[{"filter":"datum.p=='d'"}],"mark":{"type":"circle","size":80,"opacity":1},"encoding":{"x":{"field":"x","type":"quantitative","title":null},"y":{"field":"y","type":"quantitative"},"color":{"field":"s","type":"nominal","legend":{"title":null,"orient":"none","direction":"horizontal","legendX":52,"legendY":-33,"columns":4,"columnPadding":3}}}}
]},
{"width":255,"height":124,"layer":[
{"data":{"values":[{}]},"mark":{"type":"rule","color":"#F00","strokeWidth":1,"strokeDash":[2,2]},"encoding":{"y":{"datum":50,"type":"quantitative","scale":{"domain":[0,150],"nice":false},"axis":{"values":[0,50,100,150],"tickSize":5,"title":"e","titleX":-45,"titleY":-11}}}},
{"data":{"name":"C"},"transform":[{"filter":"datum.p=='e'"}],"mark":{"type":"line","interpolate":"monotone","strokeWidth":2.5},"encoding":{"x":{"field":"x","type":"quantitative","scale":{"type":"log","domain":[0.4,10.3],"nice":false},"axis":{"values":[0.4,0.5,0.6,0.7,0.8,0.9,1,2,3,4,5,6,7,8,9,10],"labelExpr":"datum.value==1?'1':datum.value==10?'10':''","labelAngle":-45,"labelOverlap":false,"title":null,"tickSize":{"condition":{"test":"datum.value==1||datum.value==10","value":7},"value":4}}},"y":{"field":"y","type":"quantitative"},"color":{"field":"s","type":"nominal","scale":{"domain":["A","B","F","G","H","I","CUR","TAX","T2"],"range":["#33E4EE","#12B418","#C46BF2","#000000","#8A8A8A","#F20F0F","#FF7F12","#1F7FF0","#207F80"]}}}},
{"data":{"name":"P"},"transform":[{"filter":"datum.p=='e'&&isValid(datum.l)"}],"mark":{"type":"rule","strokeWidth":1.8},"encoding":{"x":{"field":"x","type":"quantitative","title":null},"y":{"field":"l","type":"quantitative"},"y2":{"field":"h"},"color":{"field":"s","type":"nominal"}}},
{"data":{"name":"P"},"transform":[{"filter":"datum.p=='e'&&isValid(datum.l)"}],"mark":{"type":"tick","orient":"horizontal","size":8,"thickness":1.8},"encoding":{"x":{"field":"x","type":"quantitative","title":null},"y":{"field":"l","type":"quantitative"},"fill":{"field":"s","type":"nominal","scale":{"domain":["CUR","TAX","A","B","F","G","H","I","T2"],"range":["#FF7F12","#1F7FF0","#33E4EE","#12B418","#C46BF2","#000000","#8A8A8A","#F20F0F","#207F80"]},"legend":{"title":null,"orient":"none","direction":"horizontal","legendX":71,"legendY":7,"columns":2,"columnPadding":20,"values":["CUR","TAX"]}}}},
{"data":{"name":"P"},"transform":[{"filter":"datum.p=='e'&&isValid(datum.l)"}],"mark":{"type":"tick","orient":"horizontal","size":8,"thickness":1.8},"encoding":{"x":{"field":"x","type":"quantitative","title":null},"y":{"field":"h","type":"quantitative"},"fill":{"field":"s","type":"nominal"}}},
{"data":{"name":"P"},"transform":[{"filter":"datum.p=='e'"}],"mark":{"type":"circle","size":80,"opacity":1},"encoding":{"x":{"field":"x","type":"quantitative","title":null},"y":{"field":"y","type":"quantitative"},"color":{"field":"s","type":"nominal","legend":{"title":null,"orient":"none","direction":"horizontal","legendX":12,"legendY":-14,"columns":6,"columnPadding":6,"values":["A","B","F","G","H","I"]}}}}
]},
{"width":255,"height":124,"layer":[
{"data":{"values":[{}]},"mark":{"type":"rule","color":"#F00","strokeWidth":1,"strokeDash":[2,2]},"encoding":{"y":{"datum":50,"type":"quantitative","scale":{"domain":[0,150],"nice":false},"axis":{"values":[0,50,100,150],"tickSize":5,"title":"f","titleX":-36,"titleY":-10}}}},
{"data":{"name":"C"},"transform":[{"filter":"datum.p=='f'"}],"mark":{"type":"line","interpolate":"monotone","strokeWidth":2.5},"encoding":{"x":{"field":"x","type":"quantitative","scale":{"type":"log","domain":[0.05,10.3],"nice":false},"axis":{"values":[0.05,0.06,0.07,0.08,0.09,0.1,0.2,0.3,0.4,0.5,0.6,0.7,0.8,0.9,1,2,3,4,5,6,7,8,9,10],"labelExpr":"datum.value==1?'1':datum.value==10?'10':datum.value==0.1?'0.1':''","labelAngle":-45,"labelOverlap":false,"title":null,"tickSize":{"condition":{"test":"datum.value==1||datum.value==10||datum.value==0.1","value":7},"value":4}}},"y":{"field":"y","type":"quantitative"},"color":{"field":"s","type":"nominal","scale":{"domain":["A","B","F","G","I","CUR"],"range":["#33E4EE","#12B418","#C46BF2","#000000","#F20F0F","#FF7F12"]}}}},
{"data":{"name":"P"},"transform":[{"filter":"datum.p=='f'&&isValid(datum.l)"}],"mark":{"type":"rule","strokeWidth":1.8},"encoding":{"x":{"field":"x","type":"quantitative","title":null},"y":{"field":"l","type":"quantitative"},"y2":{"field":"h"},"color":{"field":"s","type":"nominal"}}},
{"data":{"name":"P"},"transform":[{"filter":"datum.p=='f'&&isValid(datum.l)"}],"mark":{"type":"tick","orient":"horizontal","size":8,"thickness":1.8},"encoding":{"x":{"field":"x","type":"quantitative","title":null},"y":{"field":"l","type":"quantitative"},"color":{"field":"s","type":"nominal"}}},
{"data":{"name":"P"},"transform":[{"filter":"datum.p=='f'&&isValid(datum.l)"}],"mark":{"type":"tick","orient":"horizontal","size":8,"thickness":1.8},"encoding":{"x":{"field":"x","type":"quantitative","title":null},"y":{"field":"h","type":"quantitative"},"color":{"field":"s","type":"nominal"}}},
{"data":{"name":"P"},"transform":[{"filter":"datum.p=='f'"}],"mark":{"type":"circle","size":80,"opacity":1},"encoding":{"x":{"field":"x","type":"quantitative","title":null},"y":{"field":"y","type":"quantitative"},"color":{"field":"s","type":"nominal","legend":{"title":null,"orient":"none","direction":"horizontal","legendX":4,"legendY":-31,"columns":3,"columnPadding":12,"rowPadding":9}}}}
]},
{"width":255,"height":124,"layer":[
{"data":{"values":[{}]},"mark":{"type":"rule","color":"#F00","strokeWidth":1,"strokeDash":[2,2]},"encoding":{"y":{"datum":53,"type":"quantitative","scale":{"domain":[0,156],"nice":false},"axis":{"values":[0,50,100,150],"tickSize":5,"title":"g","titleX":-45,"titleY":-5}}}},
{"data":{"name":"C"},"transform":[{"filter":"datum.p=='g'"}],"mark":{"type":"line","interpolate":"monotone","strokeWidth":2.5},"encoding":{"x":{"field":"x","type":"quantitative","scale":{"type":"log","domain":[0.4,10.3],"nice":false},"axis":{"values":[0.4,0.5,0.6,0.7,0.8,0.9,1,2,3,4,5,6,7,8,9,10],"labelExpr":"datum.value==1?'1':datum.value==10?'10':''","labelAngle":-45,"labelOverlap":false,"title":null,"tickSize":{"condition":{"test":"datum.value==1||datum.value==10","value":7},"value":4}}},"y":{"field":"y","type":"quantitative"},"color":{"field":"s","type":"nominal","scale":{"domain":["A","B","D","F","G","H","I","CUR"],"range":["#33E4EE","#12B418","#7B0F86","#C46BF2","#000000","#8A8A8A","#F20F0F","#FF7F12"]}}}},
{"data":{"name":"P"},"transform":[{"filter":"datum.p=='g'&&isValid(datum.l)"}],"mark":{"type":"rule","strokeWidth":1.8},"encoding":{"x":{"field":"x","type":"quantitative","title":null},"y":{"field":"l","type":"quantitative"},"y2":{"field":"h"},"color":{"field":"s","type":"nominal"}}},
{"data":{"name":"P"},"transform":[{"filter":"datum.p=='g'&&isValid(datum.l)"}],"mark":{"type":"tick","orient":"horizontal","size":8,"thickness":1.8},"encoding":{"x":{"field":"x","type":"quantitative","title":null},"y":{"field":"l","type":"quantitative"},"color":{"field":"s","type":"nominal"}}},
{"data":{"name":"P"},"transform":[{"filter":"datum.p=='g'&&isValid(datum.l)"}],"mark":{"type":"tick","orient":"horizontal","size":8,"thickness":1.8},"encoding":{"x":{"field":"x","type":"quantitative","title":null},"y":{"field":"h","type":"quantitative"},"color":{"field":"s","type":"nominal"}}},
{"data":{"name":"P"},"transform":[{"filter":"datum.p=='g'"}],"mark":{"type":"circle","size":80,"opacity":1},"encoding":{"x":{"field":"x","type":"quantitative","title":null},"y":{"field":"y","type":"quantitative"},"color":{"field":"s","type":"nominal","legend":{"title":null,"orient":"none","direction":"horizontal","legendX":54,"legendY":-36,"columns":4,"columnPadding":12,"rowPadding":3}}}}
]},
{"width":255,"height":124,"layer":[
{"data":{"values":[{}]},"mark":{"type":"rule","color":"#F00","strokeWidth":2,"strokeDash":[5,3]},"encoding":{"y":{"datum":50,"type":"quantitative","scale":{"domain":[0,170],"nice":false},"axis":{"values":[0,50,100,150],"tickSize":5,"title":"h","titleX":-36,"titleY":-1}}}},
{"data":{"name":"C"},"transform":[{"filter":"datum.p=='h'"}],"mark":{"type":"line","interpolate":"monotone","strokeWidth":2.5},"encoding":{"x":{"field":"x","type":"quantitative","scale":{"type":"log","domain":[0.4,10.3],"nice":false},"axis":{"values":[0.4,0.5,0.6,0.7,0.8,0.9,1,2,3,4,5,6,7,8,9,10],"labelExpr":"datum.value==1?'1':datum.value==10?'10':''","labelAngle":-45,"labelOverlap":false,"title":null,"tickSize":{"condition":{"test":"datum.value==1||datum.value==10","value":7},"value":4}}},"y":{"field":"y","type":"quantitative"},"color":{"field":"s","type":"nominal","scale":{"domain":["A","C","F","H","J","B","D","G","I","CUR"],"range":["#33E4EE","#0B1FE6","#C46BF2","#ABABAB","#7E0A0A","#12B418","#7B0F86","#F515F0","#F20F0F","#FF7F12"]}}}},
{"data":{"name":"P"},"transform":[{"filter":"datum.p=='h'&&isValid(datum.l)"}],"mark":{"type":"rule","strokeWidth":1.8},"encoding":{"x":{"field":"x","type":"quantitative","title":null},"y":{"field":"l","type":"quantitative"},"y2":{"field":"h"},"color":{"field":"s","type":"nominal"}}},
{"data":{"name":"P"},"transform":[{"filter":"datum.p=='h'&&isValid(datum.l)"}],"mark":{"type":"tick","orient":"horizontal","size":8,"thickness":1.8},"encoding":{"x":{"field":"x","type":"quantitative","title":null},"y":{"field":"l","type":"quantitative"},"color":{"field":"s","type":"nominal"}}},
{"data":{"name":"P"},"transform":[{"filter":"datum.p=='h'&&isValid(datum.l)"}],"mark":{"type":"tick","orient":"horizontal","size":8,"thickness":1.8},"encoding":{"x":{"field":"x","type":"quantitative","title":null},"y":{"field":"h","type":"quantitative"},"color":{"field":"s","type":"nominal"}}},
{"data":{"name":"P"},"transform":[{"filter":"datum.p=='h'"}],"mark":{"type":"circle","size":80,"opacity":1},"encoding":{"x":{"field":"x","type":"quantitative","title":null},"y":{"field":"y","type":"quantitative"},"color":{"field":"s","type":"nominal","legend":{"title":null,"orient":"none","direction":"horizontal","legendX":85,"legendY":-4,"columns":5,"columnPadding":7,"rowPadding":0,"labelFontSize":17,"symbolSize":90}}}}
]},
{"width":255,"height":124,"layer":[
{"data":{"values":[{}]},"mark":{"type":"rule","color":"#F00","strokeWidth":1,"strokeDash":[2,2]},"encoding":{"y":{"datum":50,"type":"quantitative","scale":{"domain":[0,150],"nice":false},"axis":{"values":[0,50,100,150],"tickSize":5,"title":"j","titleX":-45,"titleY":-17}}}},
{"data":{"name":"C"},"transform":[{"filter":"datum.p=='j'"}],"mark":{"type":"line","interpolate":"monotone","strokeWidth":2.5},"encoding":{"x":{"field":"x","type":"quantitative","scale":{"type":"log","domain":[0.05,10.3],"nice":false},"axis":{"values":[0.05,0.06,0.07,0.08,0.09,0.1,0.2,0.3,0.4,0.5,0.6,0.7,0.8,0.9,1,2,3,4,5,6,7,8,9,10],"labelExpr":"datum.value==1?'1':datum.value==10?'10':datum.value==0.1?'0.1':''","labelAngle":-45,"labelOverlap":false,"title":null,"tickSize":{"condition":{"test":"datum.value==1||datum.value==10||datum.value==0.1","value":7},"value":4}}},"y":{"field":"y","type":"quantitative"},"color":{"field":"s","type":"nominal","scale":{"domain":["A","F","G","I","DOX","G2","DG"],"range":["#33E4EE","#C46BF2","#000000","#F20F0F","#1414A3","#000000","#1B6B1B"]}}}},
{"data":{"name":"P"},"transform":[{"filter":"datum.p=='j'&&isValid(datum.l)"}],"mark":{"type":"rule","strokeWidth":1.8},"encoding":{"x":{"field":"x","type":"quantitative","title":null},"y":{"field":"l","type":"quantitative"},"y2":{"field":"h"},"color":{"field":"s","type":"nominal"}}},
{"data":{"name":"P"},"transform":[{"filter":"datum.p=='j'&&isValid(datum.l)"}],"mark":{"type":"tick","orient":"horizontal","size":8,"thickness":1.8},"encoding":{"x":{"field":"x","type":"quantitative","title":null},"y":{"field":"l","type":"quantitative"},"fill":{"field":"s","type":"nominal","scale":{"domain":["I","DOX","A","F","G","G2","DG"],"range":["#F20F0F","#1414A3","#33E4EE","#C46BF2","#000000","#000000","#1B6B1B"]},"legend":{"title":null,"orient":"none","direction":"horizontal","legendX":21,"legendY":15,"columns":2,"columnPadding":8,"values":["I","DOX"]}}}},
{"data":{"name":"P"},"transform":[{"filter":"datum.p=='j'&&isValid(datum.l)"}],"mark":{"type":"tick","orient":"horizontal","size":8,"thickness":1.8},"encoding":{"x":{"field":"x","type":"quantitative","title":null},"y":{"field":"h","type":"quantitative"},"fill":{"field":"s","type":"nominal"}}},
{"data":{"name":"P"},"transform":[{"filter":"datum.p=='j'"}],"mark":{"type":"circle","size":80,"opacity":1},"encoding":{"x":{"field":"x","type":"quantitative","title":null},"y":{"field":"y","type":"quantitative"},"color":{"field":"s","type":"nominal","legend":{"title":null,"orient":"none","direction":"horizontal","legendX":8,"legendY":-15,"columns":3,"columnPadding":9,"values":["A","F","G"]}}}}
]},
{"width":255,"height":124,"layer":[
{"data":{"values":[{}]},"mark":{"type":"rule","color":"#F00","strokeWidth":1,"strokeDash":[2,2]},"encoding":{"y":{"datum":50,"type":"quantitative","scale":{"domain":[0,150],"nice":false},"axis":{"values":[0,50,100,150],"tickSize":5,"title":"i","titleX":-36,"titleY":-16}}}},
{"data":{"name":"C"},"transform":[{"filter":"datum.p=='i'"}],"mark":{"type":"line","interpolate":"monotone","strokeWidth":2.5},"encoding":{"x":{"field":"x","type":"quantitative","scale":{"type":"log","domain":[0.05,10.3],"nice":false},"axis":{"values":[0.05,0.06,0.07,0.08,0.09,0.1,0.2,0.3,0.4,0.5,0.6,0.7,0.8,0.9,1,2,3,4,5,6,7,8,9,10],"labelExpr":"datum.value==1?'1':datum.value==10?'10':datum.value==0.1?'0.1':''","labelAngle":-45,"labelOverlap":false,"title":null,"tickSize":{"condition":{"test":"datum.value==1||datum.value==10||datum.value==0.1","value":7},"value":4}}},"y":{"field":"y","type":"quantitative"},"color":{"field":"s","type":"nominal","scale":{"domain":["A","F","G","I","CUR","DOX","TAX"],"range":["#33E4EE","#C46BF2","#000000","#F20F0F","#FF7F12","#0E5E14","#1313A0"]}}}},
{"data":{"name":"P"},"transform":[{"filter":"datum.p=='i'&&isValid(datum.l)"}],"mark":{"type":"rule","strokeWidth":1.8},"encoding":{"x":{"field":"x","type":"quantitative","title":null},"y":{"field":"l","type":"quantitative"},"y2":{"field":"h"},"color":{"field":"s","type":"nominal"}}},
{"data":{"name":"P"},"transform":[{"filter":"datum.p=='i'&&isValid(datum.l)"}],"mark":{"type":"tick","orient":"horizontal","size":8,"thickness":1.8},"encoding":{"x":{"field":"x","type":"quantitative","title":null},"y":{"field":"l","type":"quantitative"},"fill":{"field":"s","type":"nominal","scale":{"domain":["CUR","DOX","TAX","A","F","G","I"],"range":["#FF7F12","#0E5E14","#1313A0","#33E4EE","#C46BF2","#000000","#F20F0F"]},"legend":{"title":null,"orient":"none","direction":"horizontal","legendX":10,"legendY":0,"columns":3,"columnPadding":18,"values":["CUR","DOX","TAX"]}}}},
{"data":{"name":"P"},"transform":[{"filter":"datum.p=='i'&&isValid(datum.l)"}],"mark":{"type":"tick","orient":"horizontal","size":8,"thickness":1.8},"encoding":{"x":{"field":"x","type":"quantitative","title":null},"y":{"field":"h","type":"quantitative"},"fill":{"field":"s","type":"nominal"}}},
{"data":{"name":"P"},"transform":[{"filter":"datum.p=='i'"}],"mark":{"type":"circle","size":80,"opacity":1},"encoding":{"x":{"field":"x","type":"quantitative","title":null},"y":{"field":"y","type":"quantitative"},"color":{"field":"s","type":"nominal","legend":{"title":null,"orient":"none","direction":"horizontal","legendX":40,"legendY":-26,"columns":4,"columnPadding":12,"values":["A","F","G","I"]}}}}
]}
]
}
